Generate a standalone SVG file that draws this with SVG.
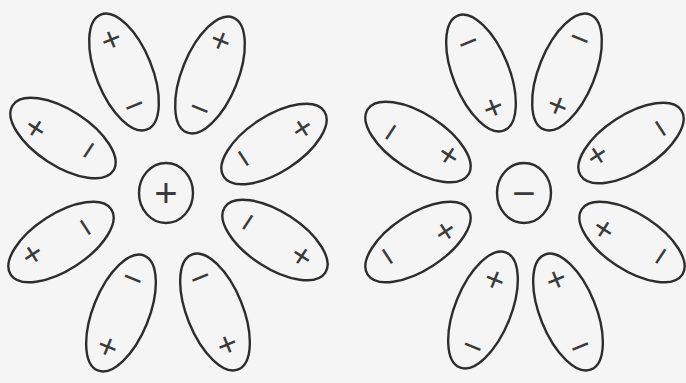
<svg xmlns="http://www.w3.org/2000/svg" width="686" height="383" viewBox="0 0 686 383">
<style>
.bg{fill:#f5f5f5}
.sh{fill:none;stroke:#2d2d2d;stroke-width:2.4}
.s{font-family:"Liberation Sans","DejaVu Sans",sans-serif;font-size:34px;fill:#3a3a3a;text-anchor:middle;dominant-baseline:central}
.c{font-size:40px}
</style>
<rect class="bg" x="0" y="0" width="686" height="383"/>
<g id="left-flower">
<g id="L-ion"><ellipse class="sh" cx="166" cy="193" rx="27" ry="30"/><text class="s c" x="166" y="193">+</text></g>
<g id="L1"><ellipse class="sh" cx="124" cy="72" rx="62" ry="28" transform="rotate(68 124 72)"/><text class="s" x="111" y="39" transform="rotate(-22 111 39)">+</text><text class="s" x="134" y="105" transform="rotate(-22 134 105)">−</text></g>
<g id="L2"><ellipse class="sh" cx="210" cy="75" rx="62" ry="28" transform="rotate(-68 210 75)"/><text class="s" x="221" y="40" transform="rotate(22 221 40)">+</text><text class="s" x="200" y="108" transform="rotate(22 200 108)">−</text></g>
<g id="L3"><ellipse class="sh" cx="63" cy="138" rx="60" ry="28" transform="rotate(33 63 138)"/><text class="s" x="35" y="128" transform="rotate(-57 35 128)">+</text><text class="s" x="88" y="150" transform="rotate(-57 88 150)">−</text></g>
<g id="L4"><ellipse class="sh" cx="274" cy="144" rx="60" ry="28" transform="rotate(-33 274 144)"/><text class="s" x="303" y="128" transform="rotate(57 303 128)">+</text><text class="s" x="244" y="158" transform="rotate(57 244 158)">−</text></g>
<g id="L5"><ellipse class="sh" cx="61" cy="242" rx="60" ry="28" transform="rotate(-33 61 242)"/><text class="s" x="33" y="254" transform="rotate(57 33 254)">+</text><text class="s" x="86" y="227" transform="rotate(57 86 227)">−</text></g>
<g id="L6"><ellipse class="sh" cx="275" cy="240" rx="60" ry="28" transform="rotate(33 275 240)"/><text class="s" x="301" y="256" transform="rotate(-57 301 256)">+</text><text class="s" x="247" y="222" transform="rotate(-57 247 222)">−</text></g>
<g id="L7"><ellipse class="sh" cx="121" cy="313" rx="62" ry="28" transform="rotate(-68 121 313)"/><text class="s" x="108" y="346" transform="rotate(22 108 346)">+</text><text class="s" x="133" y="278" transform="rotate(22 133 278)">−</text></g>
<g id="L8"><ellipse class="sh" cx="215" cy="312" rx="62" ry="28" transform="rotate(68 215 312)"/><text class="s" x="227" y="344" transform="rotate(-22 227 344)">+</text><text class="s" x="200" y="277" transform="rotate(-22 200 277)">−</text></g>
</g>
<g id="right-flower">
<g id="R-ion"><ellipse class="sh" cx="524" cy="193" rx="27" ry="30"/><text class="s c" x="524" y="193">−</text></g>
<g id="R1"><ellipse class="sh" cx="481" cy="73" rx="62" ry="28" transform="rotate(68 481 73)"/><text class="s" x="493" y="107" transform="rotate(-22 493 107)">+</text><text class="s" x="468" y="42" transform="rotate(-22 468 42)">−</text></g>
<g id="R2"><ellipse class="sh" cx="567" cy="72" rx="62" ry="28" transform="rotate(-68 567 72)"/><text class="s" x="558" y="105" transform="rotate(22 558 105)">+</text><text class="s" x="580" y="38" transform="rotate(22 580 38)">−</text></g>
<g id="R3"><ellipse class="sh" cx="418" cy="142" rx="60" ry="28" transform="rotate(33 418 142)"/><text class="s" x="448" y="155" transform="rotate(-57 448 155)">+</text><text class="s" x="390" y="132" transform="rotate(-57 390 132)">−</text></g>
<g id="R4"><ellipse class="sh" cx="631" cy="143" rx="60" ry="28" transform="rotate(-33 631 143)"/><text class="s" x="598" y="155" transform="rotate(57 598 155)">+</text><text class="s" x="661" y="128" transform="rotate(57 661 128)">−</text></g>
<g id="R5"><ellipse class="sh" cx="418" cy="242" rx="60" ry="28" transform="rotate(-33 418 242)"/><text class="s" x="446" y="231" transform="rotate(57 446 231)">+</text><text class="s" x="388" y="256" transform="rotate(57 388 256)">−</text></g>
<g id="R6"><ellipse class="sh" cx="632" cy="242" rx="60" ry="28" transform="rotate(33 632 242)"/><text class="s" x="603" y="229" transform="rotate(-57 603 229)">+</text><text class="s" x="660" y="256" transform="rotate(-57 660 256)">−</text></g>
<g id="R7"><ellipse class="sh" cx="483" cy="310" rx="62" ry="28" transform="rotate(-68 483 310)"/><text class="s" x="495" y="279" transform="rotate(22 495 279)">+</text><text class="s" x="473" y="346" transform="rotate(22 473 346)">−</text></g>
<g id="R8"><ellipse class="sh" cx="568" cy="312" rx="62" ry="28" transform="rotate(68 568 312)"/><text class="s" x="556" y="279" transform="rotate(-22 556 279)">+</text><text class="s" x="580" y="346" transform="rotate(-22 580 346)">−</text></g>
</g>
</svg>
